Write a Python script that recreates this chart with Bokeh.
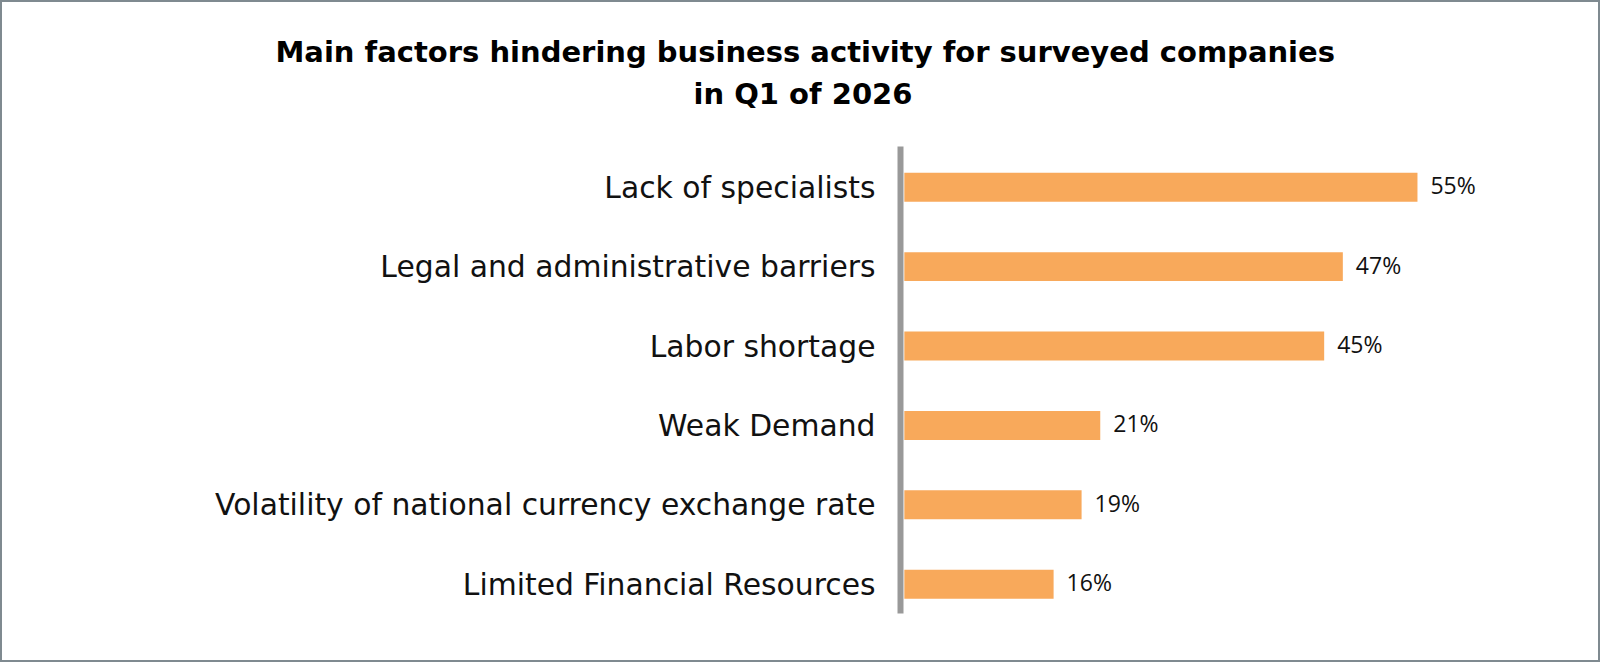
from bokeh.plotting import figure
from bokeh.models import FixedTicker, Range1d, Title
from bokeh.layouts import column
from bokeh.core.properties import value
from bokeh.embed import file_html
from bokeh.resources import INLINE

# ---- data ----
categories = [
    "Lack of specialists",
    "Legal and administrative barriers",
    "Labor shortage",
    "Weak Demand",
    "Volatility of national currency exchange rate",
    "Limited Financial Resources",
]
shares = [55, 47, 45, 21, 19, 16]
share_labels = ["55%", "47%", "45%", "21%", "19%", "16%"]
title_lines = [
    "Main factors hindering business activity for surveyed companies",
    "in Q1 of 2026",
]

BAR_COLOR = "#F8A95B"
AXIS_COLOR = "#999999"
TEXT_COLOR = "#111111"

n = len(categories)
ypos = [n - 1 - i for i in range(n)]   # first category at top

p = figure(
    width=1596, height=658,
    output_backend="svg", toolbar_location=None, title=None,
    x_range=Range1d(-0.41, 70.33),
    y_range=Range1d(-0.369, 5.513),
    min_border_left=898, min_border_right=38,
    min_border_top=144, min_border_bottom=47,
)
p.outline_line_color = None
p.background_fill_color = "white"
p.border_fill_color = "white"
p.grid.visible = False
p.xaxis.visible = False

p.hbar(y=ypos, right=shares, left=0, height=0.365, color=BAR_COLOR, line_color=None)

p.text(x=shares, y=ypos, text=share_labels, x_offset=13, y_offset=-2,
       text_baseline="middle", text_align="left",
       text_font=value("Open Sans"), text_font_size="23px", text_color=TEXT_COLOR)

ya = p.yaxis[0]
ya.ticker = FixedTicker(ticks=ypos)
ya.major_label_overrides = {yy: c for yy, c in zip(ypos, categories)}
ya.axis_line_color = AXIS_COLOR
ya.axis_line_width = 6
ya.major_tick_line_color = None
ya.minor_tick_line_color = None
ya.major_tick_out = 0
ya.major_tick_in = 0
ya.major_label_standoff = 25
ya.major_label_text_font = "DejaVu Sans"
ya.major_label_text_font_size = "29.8px"
ya.major_label_text_color = TEXT_COLOR

# spacer between frame and title block
p.add_layout(Title(text=" ", standoff=30, text_font_size="1px"), "above")
# title: second line nearest to the frame, first line above it
for txt, off, so in [(title_lines[1], -207, 6), (title_lines[0], -625, 6)]:
    p.add_layout(Title(text=txt, align="left", offset=off, standoff=so,
                       text_font="DejaVu Sans", text_font_style="bold",
                       text_font_size="29px", text_color="black"), "above")

layout = column(p, spacing=0,
                styles={"border": "2px solid #7f8a90", "box-sizing": "border-box",
                        "background-color": "white"})

open("out.html", "w").write(file_html(layout, INLINE))
